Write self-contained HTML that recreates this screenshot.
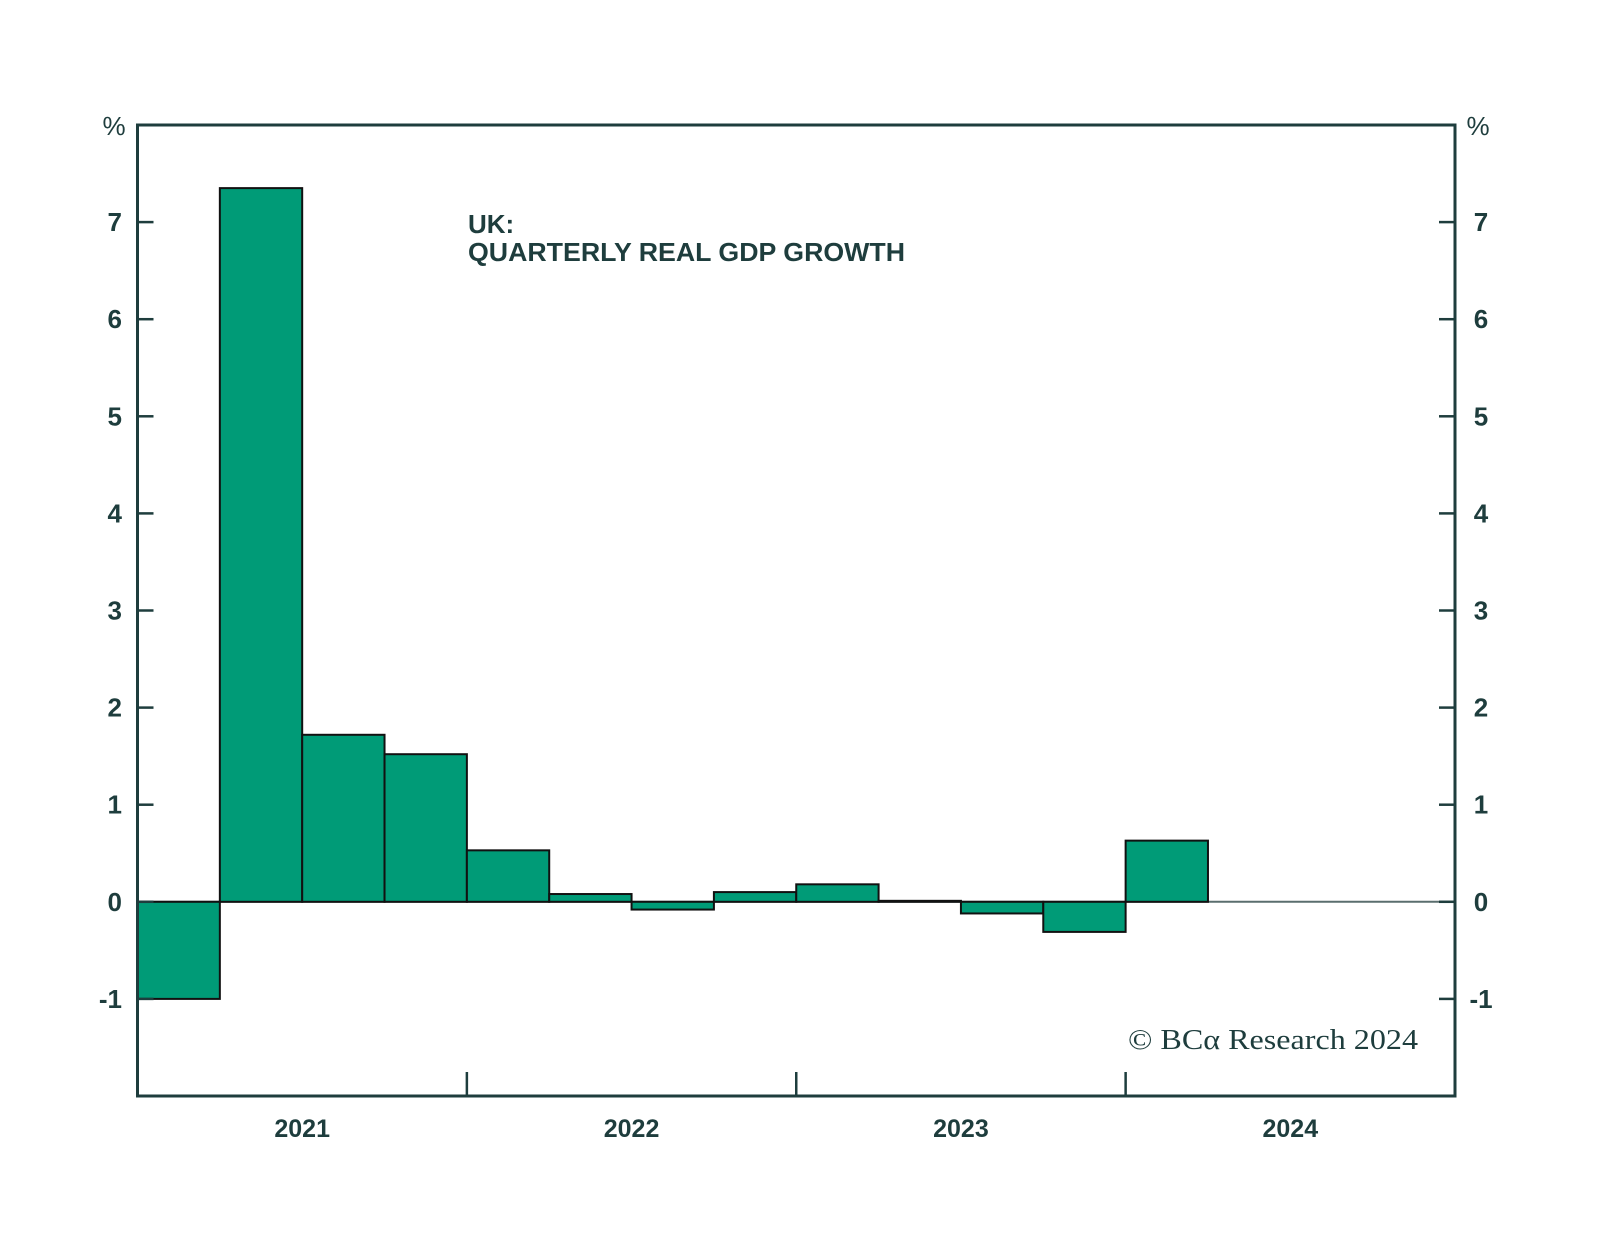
<!DOCTYPE html>
<html><head><meta charset="utf-8"><style>
html,body{margin:0;padding:0;background:#fff;}
svg{display:block;font-family:"Liberation Sans",sans-serif;}
</style></head><body>
<svg id="chart" width="1600" height="1240" viewBox="0 0 1600 1240">
<g id="grid"></g>
<g id="bars"></g>
<g id="axes"></g>
<text x="468" y="233" font-size="26" font-weight="bold" fill="#1e3d3d">UK:</text>
<text x="468" y="261" font-size="26" font-weight="bold" fill="#1e3d3d" textLength="437" lengthAdjust="spacingAndGlyphs">QUARTERLY REAL GDP GROWTH</text>
<text x="1128" y="1049" font-size="29" fill="#1e3d3d" font-family="Liberation Serif, serif" textLength="290" lengthAdjust="spacingAndGlyphs">© BCα Research 2024</text>
</svg>
<script>
const values = [-1.0, 7.35, 1.72, 1.52, 0.53, 0.08, -0.08, 0.1, 0.18, 0.01, -0.12, -0.31, 0.63];
const yTicks = [-1, 0, 1, 2, 3, 4, 5, 6, 7];
const years = ["2021", "2022", "2023", "2024"];
const nSlots = 16;
const L = 137.5, R = 1455, T = 125, B = 1096, yMin = -2, yMax = 8;
const ns = "http://www.w3.org/2000/svg";
const dark = "#1e3d3d";
const y = v => B - (v - yMin) / (yMax - yMin) * (B - T);
const qw = (R - L) / nSlots;
const x = i => L + i * qw;
function mk(tag, attrs, parent, txt) {
  const e = document.createElementNS(ns, tag);
  for (const k in attrs) e.setAttribute(k, attrs[k]);
  if (txt !== undefined) e.textContent = txt;
  document.getElementById(parent).appendChild(e);
  return e;
}
let z = mk("line", {x1: L, x2: R, y1: y(0), y2: y(0), stroke: "#5a6e6e", "stroke-width": 2}, "grid");


values.forEach((v, i) => {
  const r = mk("rect", {x: x(i), y: Math.min(y(v), y(0)), width: qw, height: Math.abs(y(v) - y(0)), fill: "#009b77", stroke: "#111", "stroke-width": 2}, "bars");
  
  
});
const fr = mk("rect", {x: L, y: T, width: R - L, height: B - T, fill: "none", stroke: dark, "stroke-width": 3}, "axes");


yTicks.forEach(t => {
  const a = mk("line", {x1: L, x2: L + 16, y1: y(t), y2: y(t), stroke: dark, "stroke-width": 2.5}, "axes");
  
  
  const b = mk("line", {x1: R - 16, x2: R, y1: y(t), y2: y(t), stroke: dark, "stroke-width": 2.5}, "axes");
  
  
  const l1 = mk("text", {x: 122, y: y(t) + 9, "text-anchor": "end", "font-size": 26, "font-weight": "bold", fill: dark}, "axes", String(t));
  
  
  const l2 = mk("text", {x: 1481, y: y(t) + 9, "text-anchor": "middle", "font-size": 26, "font-weight": "bold", fill: dark}, "axes", String(t));
  
  
});
[["114", "left"], ["1478", "right"]].forEach(p => {
  const t = mk("text", {x: p[0], y: 135, "text-anchor": "middle", "font-size": 26, fill: dark}, "axes", "%");
  
  
});
years.forEach((yr, i) => {
  if (i > 0) {
    const tk = mk("line", {x1: x(i * 4), x2: x(i * 4), y1: B, y2: B - 24, stroke: dark, "stroke-width": 2.5}, "axes");
    
    
  }
  const t = mk("text", {x: x(i * 4 + 2), y: 1137, "text-anchor": "middle", "font-size": 25, "font-weight": "bold", fill: dark}, "axes", yr);
  
  
});
</script>
</body></html>
